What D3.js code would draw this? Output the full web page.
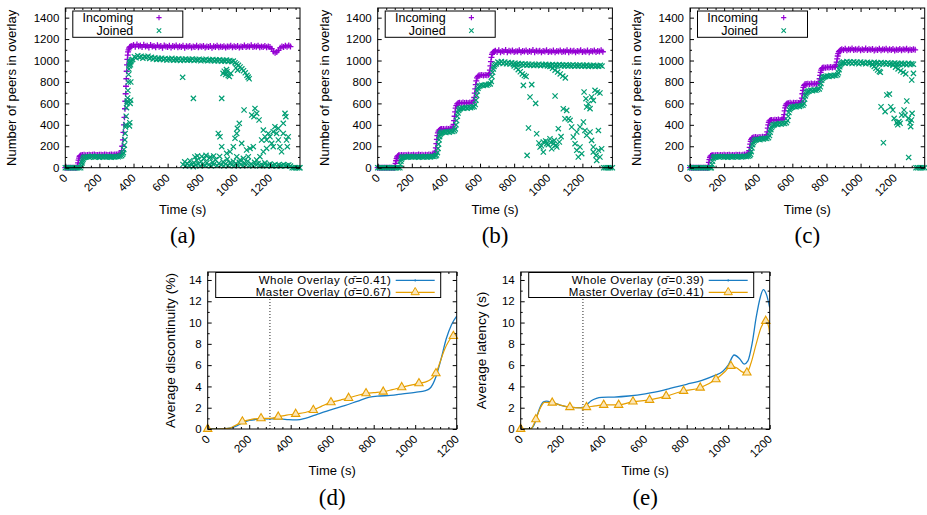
<!DOCTYPE html>
<html><head><meta charset="utf-8">
<script src="https://cdn.jsdelivr.net/npm/d3@7"></script>
<style>body{margin:0;background:#fff}svg text{font-family:"Liberation Sans",Arial,sans-serif;fill:#000}</style>
</head><body><svg id="c" width="927" height="515"></svg>
<script>
// ---------------- DATA ----------------
const peerTicks=[0,200,400,600,800,1000,1200,1400];
const timeTicks=[0,200,400,600,800,1000,1200];
const metricTicks=[0,2,4,6,8,10,12,14];
const scatterLegend=["Incoming","Joined"];
const lineLegendD=["Whole Overlay (\u03C3\u0304=0.41)","Master Overlay (\u03C3\u0304=0.67)"];
const lineLegendE=["Whole Overlay (\u03C3\u0304=0.39)","Master Overlay (\u03C3\u0304=0.41)"];
const captions=["(a)","(b)","(c)","(d)","(e)"];

const aIncoming=[[0,0],[10,0],[20,0],[30,0],[40,0],[50,0],[60,0],[68,2],[72,20],[75,45],[78,70],[81,90],[84,105],[88,112],[92,116],
[100,118],[110,120],[120,117],[130,119],[140,121],[150,118],[160,120],[170,122],[180,119],[190,118],[200,120],[210,121],[220,119],[230,122],[240,120],[250,118],[260,121],[270,123],[280,120],[290,122],[300,124],[310,126],[320,128],
[325,135],[330,160],[334,200],[338,260],[341,330],[344,400],[347,470],[350,550],[352,620],[354,690],[356,760],[358,830],[360,900],[362,960],[364,1010],[366,1050],[368,1080],[371,1100],[374,1115],[378,1125],[382,1130],
[390,1135],[400,1145],[410,1128],[420,1150],[430,1132],[440,1140],[450,1125],[460,1148],[470,1130],[480,1138],[490,1122],[500,1145],[510,1130],[520,1136],[530,1124],[540,1142],[550,1128],[560,1135],[570,1120],[580,1140],[590,1130],[600,1126],[610,1138],[620,1122],[630,1135],[640,1128],[650,1140],[660,1124],[670,1132],[680,1126],[690,1138],[700,1120],[710,1134],[720,1128],[730,1136],[740,1122],[750,1130],[760,1126],[770,1138],[780,1124],[790,1132],[800,1128],[810,1136],[820,1122],[830,1130],[840,1125],[850,1135],[860,1120],[870,1132],[880,1127],[890,1138],[900,1123],[910,1131],[920,1126],[930,1134],[940,1121],[950,1130],[960,1128],[970,1137],[980,1124],[990,1132],[1000,1126],[1010,1135],[1020,1122],[1030,1130],[1040,1127],[1050,1140],[1060,1125],[1070,1133],[1080,1128],[1090,1142],[1100,1126],[1110,1134],[1120,1129],[1130,1138],[1140,1124],[1150,1131],[1160,1127],[1170,1136],[1180,1123],[1190,1130],[1200,1125],[1210,1110],[1220,1085],[1230,1072],[1240,1080],[1250,1095],[1260,1118],[1270,1130],[1280,1125],[1290,1138],[1300,1128],[1310,1140],[1320,1130]];

const aJoined=[[0,0],[10,0],[20,0],[30,0],[40,0],[50,0],[60,0],[70,0],[80,0],[90,0],[95,20],[98,45],[101,65],[104,80],[108,92],[113,98],
[120,100],[130,104],[140,98],[150,102],[160,106],[170,99],[180,101],[190,104],[200,97],[210,105],[220,100],[230,102],[240,99],[250,104],[260,101],[270,98],[280,103],[290,100],[300,105],[310,102],[320,108],[330,112],
[336,125],[340,140],[343,170],[346,210],[349,260],[351,320],[353,380],[355,400],[357,480],[359,560],[361,600],[363,620],[365,650],[367,720],[369,800],[371,870],[373,920],[375,950],[377,975],[379,985],[382,960],[385,990],[388,1005],[376,390],[378,420],[380,600],[383,630],[384,800],
[395,1010],[405,1035],[415,1025],[425,1045],[435,1030],[445,1040],[455,1022],[465,1036],[475,1028],[485,1040],[495,1020],[505,1030],[515,1015],[525,1025],[535,1010],[545,1020],[555,1012],[565,1022],[575,1008],[585,1018],[595,1005],[605,1015],[615,1008],[625,1020],[635,1003],[645,1012],[655,1006],[665,1016],[675,1000],[685,1012],[695,1005],[705,1015],[715,1002],[725,1010],[735,1004],[745,1014],[755,1000],[765,1010],[775,1004],[785,1012],[795,998],[805,1008],[815,1002],[825,1012],[835,998],[845,1006],[855,1000],[865,1010],[875,996],[885,1004],[895,998],[905,1008],[915,994],[925,1002],[935,996],[945,1004],[955,992],[965,1000],[975,990],[985,995],
[995,980],[1005,968],[1015,955],[1025,940],[1035,922],[1045,905],[1055,885],[1065,862],[1072,845],[1078,830],
[925,880],[932,900],[940,870],[948,895],[955,860],[962,850],[945,915],[970,880],[1000,930],[1010,910],
[688,843],[751,647],[917,647],
[690,30],[700,55],[705,15],[715,40],[725,20],[730,65],[740,30],[750,10],[755,45],[765,25],[770,70],[780,35],[790,15],[795,60],[805,30],[815,85],[820,20],[830,45],[840,25],[845,90],[855,15],[865,50],[870,30],[880,75],[890,20],[900,40],[905,105],[915,25],[925,55],[930,15],[940,35],[950,80],[955,20],[965,45],[975,25],[985,60],[990,15],[1000,40],[1010,20],[1020,50],[1030,30],[1040,15],[1050,45],[1060,25],[1070,60],[1080,20],[1090,35],[1100,15],[1110,50],[1120,25],[1130,40],[1140,15],[1150,30],[1160,20],[1170,45],[1180,15],[1190,25],[1200,35],[1210,15],[1220,20],[1230,30],[1240,15],[1250,25],[1260,15],[1270,20],[1280,30],[1290,15],[1300,20],[1310,25],[1320,15],
[760,100],[775,110],[800,105],[825,115],[850,100],[870,110],
[897,320],[907,289],[917,196],[946,134],[966,149],[985,196],[995,274],[1009,367],[1020,414],[1005,320],[1034,227],[1044,87],[1063,165],[1073,103],[1048,538],[1112,553],[1106,476],[1093,491],[1122,507],[1136,445],[1141,103],[1151,258],[1161,351],[1171,289],[1180,258],[1190,320],[1200,289],[1210,227],[1219,336],[1229,383],[1239,320],[1249,258],[1258,196],[1268,149],[1278,320],[1288,507],[1293,476],[1278,414],[1249,367],[1219,196],[1180,180],[1161,149],[1102,196],[1083,180],[1005,103],[1024,72],[1122,72],[1297,258],[1307,289],[1302,196],
[1330,0],[1340,0],[1350,0],[1360,0],[1370,0],[1376,0]];

const bIncoming=[[0,0],[10,0],[20,0],[30,0],[40,0],[50,0],[60,0],[70,0],[80,0],[90,0],[98,0],[102,15],[105,40],[108,65],[111,85],[114,100],[118,110],[123,115],
[130,116],[140,118],[150,115],[160,119],[170,117],[180,120],[190,116],[200,118],[210,121],[220,117],[230,119],[240,122],[250,118],[260,120],[270,117],[280,121],[290,119],[300,122],[310,120],[320,124],[330,126],
[335,135],[338,155],[341,185],[344,225],[347,265],[350,300],[353,325],[357,342],[362,352],[368,358],
[375,360],[385,362],[395,358],[405,364],[415,361],[425,366],[435,368],
[442,380],[445,405],[448,440],[451,480],[454,520],[457,555],[461,580],[466,595],[472,603],
[480,605],[490,602],[500,608],[510,604],[520,606],[530,603],[540,609],[550,606],[558,610],
[563,625],[566,655],[569,695],[572,735],[575,775],[578,810],[582,838],[587,852],[593,860],
[600,862],[610,865],[620,860],[630,866],[640,863],[650,867],
[655,880],[658,910],[661,950],[664,990],[667,1030],[670,1058],[674,1072],[679,1080],[684,1085],
[690,1090],[700,1080],[710,1095],[720,1078],[730,1088],[740,1082],[750,1098],[760,1076],[770,1090],[780,1084],[790,1094],[800,1079],[810,1087],[820,1083],[830,1096],[840,1077],[850,1089],[860,1085],[870,1093],[880,1080],[890,1088],[900,1082],[910,1097],[920,1078],[930,1090],[940,1084],[950,1092],[960,1076],[970,1088],[980,1083],[990,1095],[1000,1079],[1010,1087],[1020,1081],[1030,1093],[1040,1077],[1050,1089],[1060,1085],[1070,1094],[1080,1080],[1090,1086],[1100,1082],[1110,1096],[1120,1078],[1130,1090],[1140,1083],[1150,1092],[1160,1077],[1170,1088],[1180,1084],[1190,1095],[1200,1079],[1210,1087],[1220,1082],[1230,1093],[1240,1078],[1250,1089],[1260,1085],[1270,1094],[1280,1080],[1290,1088],[1300,1083],[1310,1095],[1320,1082]];

const bJoined=[[0,0],[10,0],[20,0],[30,0],[40,0],[50,0],[60,0],[70,0],[80,0],[90,0],[100,0],[110,0],[120,0],[130,0],[133,30],[136,60],[139,80],[142,92],[146,98],
[150,100],[160,103],[170,98],[180,101],[190,104],[200,99],[210,102],[220,100],[230,105],[240,98],[250,103],[260,101],[270,99],[280,104],[290,100],[300,103],[310,101],[320,106],[330,104],[340,110],
[345,118],[350,140],[354,180],[357,220],[360,260],[363,290],[366,310],[370,320],[375,326],
[380,330],[390,334],[400,328],[410,336],[420,332],[430,340],[440,338],[450,346],
[455,362],[459,400],[463,440],[467,480],[471,510],[475,535],[480,548],
[485,552],[495,558],[505,554],[515,562],[525,556],[535,564],[545,560],[555,566],[565,570],
[572,590],[576,630],[580,675],[584,715],[588,742],[593,758],
[600,765],[610,770],[620,766],[630,774],[640,770],[650,778],[660,782],
[666,805],[670,850],[674,890],[678,920],[682,945],[687,960],
[695,968],[705,985],[715,975],[725,990],[735,972],[745,985],[755,970],[765,982],[775,968],[785,978],[795,965],[805,975],[815,962],[825,972],[835,960],[845,970],[855,958],[865,968],[875,956],[885,966],[895,955],[905,965],[915,953],[925,962],[935,955],[945,965],[955,952],[965,962],[975,955],[985,964],[995,950],[1005,960],[1015,953],[1025,963],[1035,950],[1045,958],[1055,952],[1065,962],[1075,948],[1085,958],[1095,950],[1105,960],[1115,948],[1125,956],[1135,950],[1145,960],[1155,947],[1165,955],[1175,950],[1185,958],[1195,946],[1205,955],[1215,948],[1225,957],[1235,945],[1245,953],[1255,948],[1265,956],[1275,944],[1285,952],[1295,946],[1305,955],[1315,948],
[800,950],[812,935],[824,915],[836,895],[848,875],[860,860],[870,850],
[1010,945],[1025,928],[1040,910],[1055,892],[1070,875],[1085,855],[1100,838],
[854,768],[903,775],[893,660],[926,600],[876,115],[884,370],[932,317],[1040,669],
[952,193],[971,240],[991,224],[1010,270],[1030,224],[1050,193],[1020,177],[971,146],[1059,364],[1088,550],[1098,457],[1108,535],[1118,457],[1128,442],[1137,380],[1147,286],[1157,224],[1167,162],[1176,100],[1186,193],[1196,131],[1167,333],[1186,380],[1206,426],[1215,348],[1225,302],[1245,333],[1254,255],[1264,193],[1210,706],[1221,644],[1235,597],[1245,551],[1254,660],[1264,628],[1225,566],[1274,722],[1288,706],[1303,697],[1294,348],[1264,146],[1280,115],[1294,162],[1303,100],[1313,177],[1284,68],
[945,230],[960,205],[985,250],[1000,215],[1015,235],[1035,255],[1045,210],[1065,240],[1075,290],
[1325,0],[1335,0],[1345,0],[1355,0],[1365,0],[1376,0]];

const cIncoming=[[0,0],[10,0],[20,0],[30,0],[40,0],[50,0],[60,0],[70,0],[80,0],[90,0],[100,0],[105,0],[108,20],[111,50],[114,75],[117,95],[121,108],[126,114],[132,116],
[140,117],[150,115],[160,118],[170,116],[180,119],[190,117],[200,120],[210,116],[220,118],[230,121],[240,117],[250,119],[260,116],[270,120],[280,118],[290,121],[300,117],[310,120],[320,122],[330,124],[338,126],
[344,135],[347,160],[350,190],[353,220],[356,245],[359,262],[363,274],[368,280],
[375,283],[385,286],[395,282],[405,287],[415,284],[425,288],[435,286],[445,290],
[450,305],[453,335],[456,370],[459,400],[462,422],[466,436],[471,443],
[478,446],[488,443],[498,448],[508,445],[518,449],[528,446],[538,450],[545,452],
[549,465],[552,495],[555,530],[558,558],[561,580],[565,593],[570,600],
[577,602],[587,605],[597,600],[607,606],[617,603],[627,607],[637,604],[647,608],
[653,620],[656,650],[659,690],[662,722],[665,750],[669,768],[674,778],
[681,780],[691,783],[701,779],[711,785],[721,781],[731,786],[741,782],[751,787],
[757,800],[760,830],[763,862],[766,890],[769,910],[773,925],[778,933],
[785,936],[795,933],[805,938],[815,935],[825,940],[835,936],[845,941],[852,943],
[857,958],[860,985],[863,1015],[866,1042],[869,1065],[873,1082],[878,1092],[884,1098],
[890,1104],[900,1098],[910,1110],[920,1096],[930,1106],[940,1100],[950,1112],[960,1097],[970,1105],[980,1101],[990,1109],[1000,1095],[1010,1104],[1020,1099],[1030,1111],[1040,1097],[1050,1106],[1060,1100],[1070,1108],[1080,1094],[1090,1103],[1100,1098],[1110,1110],[1120,1096],[1130,1105],[1140,1101],[1150,1109],[1160,1095],[1170,1104],[1180,1099],[1190,1107],[1200,1093],[1210,1102],[1220,1097],[1230,1108],[1240,1095],[1250,1104],[1260,1100],[1270,1110],[1280,1096],[1290,1103],[1300,1098],[1310,1106],[1320,1100]];

const cJoined=[[0,0],[10,0],[20,0],[30,0],[40,0],[50,0],[60,0],[70,0],[80,0],[90,0],[100,0],[110,0],[120,0],[125,0],[129,30],[132,60],[136,85],[140,97],[146,102],
[150,100],[160,104],[170,99],[180,102],[190,105],[200,100],[210,103],[220,98],[230,104],[240,101],[250,99],[260,105],[270,102],[280,100],[290,104],[300,101],[310,103],[320,106],[330,104],[340,108],[350,112],
[355,125],[359,150],[363,185],[367,215],[371,235],[376,250],[382,258],
[390,262],[400,266],[410,262],[420,270],[430,268],[440,274],[450,272],[460,280],
[466,300],[470,330],[474,355],[478,375],[483,390],[489,398],
[495,402],[505,408],[515,404],[525,412],[535,408],[545,415],[555,412],[565,420],
[572,440],[576,480],[580,515],[584,540],[589,555],[595,563],
[602,566],[612,572],[622,568],[632,576],[642,572],[652,580],[662,584],
[668,600],[672,640],[676,670],[680,690],[685,703],[691,712],
[698,716],[708,722],[718,718],[728,726],[738,722],[748,730],[758,735],
[764,755],[768,785],[772,815],[776,832],[781,842],[787,848],
[795,850],[805,856],[815,852],[825,860],[835,856],[845,862],[855,860],[865,868],
[870,885],[874,915],[878,942],[882,960],[887,972],[893,980],
[900,985],[910,975],[920,990],[930,978],[940,986],[950,972],[960,988],[970,976],[980,984],[990,970],[1000,986],[1010,975],[1020,982],[1030,969],[1040,984],[1050,974],[1060,980],[1070,968],[1080,983],[1090,972],[1100,978],[1110,966],[1120,981],[1130,970],[1140,976],[1150,965],[1160,979],[1170,968],[1180,975],[1190,964],[1200,977],[1210,967],[1220,973],[1230,962],[1240,975],[1250,965],[1260,972],[1270,960],[1280,974],[1290,963],[1300,970],[1310,965],
[1070,960],[1080,945],[1090,928],[1100,912],[1110,898],[1116,890],[1190,955],[1205,938],[1220,922],[1235,905],[1250,890],[1265,875],[1300,818],[1310,880],
[1120,569],[1144,523],[1154,678],[1169,687],[1134,233],[1177,569],[1189,538],[1197,460],[1212,420],[1232,414],[1241,491],[1255,538],[1271,622],[1261,491],[1280,460],[1290,420],[1294,383],[1302,507],[1282,96],[1298,445],[1225,430],[1218,400],
[1325,0],[1335,0],[1345,0],[1355,0],[1365,0],[1376,0]];

const dWhole=[[0,0],[40,0],[80,0.02],[110,0.1],[140,0.3],[170,0.6],[200,0.8],[250,0.92],[300,0.95],[350,0.95],[390,0.88],[430,0.86],[470,1.0],[530,1.4],[600,1.85],[660,2.2],[720,2.6],[780,3.0],[830,3.1],[880,3.15],[940,3.3],[1000,3.45],[1050,3.6],[1075,3.9],[1100,4.9],[1125,6.6],[1150,8.5],[1175,9.8],[1200,10.6]];
const dMaster=[[0,0],[50,0],[100,0.05],[130,0.3],[167,0.69],[210,0.9],[257,1.0],[300,1.0],[340,1.15],[380,1.3],[424,1.41],[470,1.55],[509,1.78],[550,2.15],[594,2.5],[640,2.72],[679,2.91],[720,3.15],[763,3.35],[800,3.42],[846,3.5],[890,3.7],[935,3.92],[980,4.12],[1018,4.29],[1060,4.5],[1080,4.75],[1100,5.23],[1120,6.3],[1140,7.4],[1160,8.2],[1184,8.73],[1200,8.8]];
const dMasterMarks=[[0,0],[167,0.69],[257,1.0],[340,1.15],[424,1.41],[509,1.78],[594,2.5],[679,2.91],[763,3.35],[846,3.5],[935,3.92],[1018,4.29],[1100,5.23],[1184,8.73]];

const eWhole=[[0,0],[30,0],[50,0.05],[65,0.4],[80,1.3],[95,2.1],[110,2.55],[125,2.62],[150,2.5],[190,2.25],[240,2.05],[290,2.0],[305,2.05],[320,2.3],[340,2.65],[365,2.88],[390,2.97],[450,3.0],[520,3.1],[600,3.3],[680,3.6],[720,3.82],[800,4.2],[877,4.6],[930,5.0],[973,5.4],[1000,6.0],[1029,6.95],[1055,6.6],[1077,6.1],[1095,6.4],[1115,8.0],[1135,10.5],[1155,12.4],[1169,13.1],[1185,12.6],[1200,11.4]];
const eMaster=[[0,0],[30,0],[50,0.05],[73,0.91],[95,2.0],[115,2.5],[152,2.47],[190,2.25],[237,2.05],[280,1.98],[317,2.05],[360,2.18],[400,2.26],[472,2.26],[541,2.57],[621,2.73],[701,3.1],[785,3.57],[865,3.88],[941,4.67],[985,5.4],[1013,5.92],[1040,5.75],[1070,5.35],[1090,5.3],[1110,6.2],[1135,8.0],[1160,9.6],[1181,10.15],[1195,9.6],[1200,8.8]];
const eMasterMarks=[[0,0],[73,0.91],[152,2.47],[237,2.05],[317,2.05],[400,2.26],[472,2.26],[541,2.57],[621,2.73],[701,3.1],[785,3.57],[865,3.88],[941,4.67],[1013,5.92],[1090,5.3],[1181,10.15]];
const markerTime=300;

// ---------------- DRAW ----------------
const svg=d3.select("#c");
const C_IN="#9400d3",C_JO="#009e73",C_BLUE="#1a7dc4",C_ORG="#e69f00";

function frame(g,x,y,xt,yt,xMinor,yMinor,titleY,titleX,titleSize,cap,capY){
  const [x0,x1]=x.range(),[y1,y0]=y.range();
  const minorX=d3.range(x.domain()[0],x.domain()[1]+1e-9,xMinor).filter(v=>!xt.includes(v));
  const minorY=d3.range(y.domain()[0],y.domain()[1]+1e-9,yMinor).filter(v=>!yt.includes(v));
  const mk=(ax,sel)=>{sel.call(ax);sel.select(".domain").remove();sel.selectAll("line").attr("stroke","#000");return sel;};
  mk(d3.axisBottom(x).tickValues(minorX).tickSize(-2).tickFormat(""),g.append("g").attr("transform",`translate(0,${y1})`));
  mk(d3.axisTop(x).tickValues(minorX).tickSize(-2).tickFormat(""),g.append("g").attr("transform",`translate(0,${y0})`));
  mk(d3.axisLeft(y).tickValues(minorY).tickSize(-2).tickFormat(""),g.append("g").attr("transform",`translate(${x0},0)`));
  mk(d3.axisRight(y).tickValues(minorY).tickSize(-2).tickFormat(""),g.append("g").attr("transform",`translate(${x1},0)`));
  mk(d3.axisTop(x).tickValues(xt).tickSize(-4).tickFormat(""),g.append("g").attr("transform",`translate(0,${y0})`));
  mk(d3.axisRight(y).tickValues(yt).tickSize(-4).tickFormat(""),g.append("g").attr("transform",`translate(${x1},0)`));
  const bx=mk(d3.axisBottom(x).tickValues(xt).tickSize(-4).tickFormat(d3.format("d")),g.append("g").attr("transform",`translate(0,${y1})`));
  bx.selectAll("text").attr("x",0).attr("y",0).attr("dy",0).attr("text-anchor","end")
    .attr("transform","translate(2.5,11) rotate(-45)").style("font-size","11.5px").style("font-family","Liberation Sans, Arial, sans-serif");
  const ly=mk(d3.axisLeft(y).tickValues(yt).tickSize(-4).tickPadding(6).tickFormat(d3.format("d")),g.append("g").attr("transform",`translate(${x0},0)`));
  ly.selectAll("text").style("font-size","11.5px").style("font-family","Liberation Sans, Arial, sans-serif");
  g.append("rect").attr("x",x0).attr("y",y0).attr("width",x1-x0).attr("height",y1-y0).attr("fill","none").attr("stroke","#000").attr("stroke-width",1);
  g.append("text").attr("transform",`translate(${x0-titleX},${(y0+y1)/2}) rotate(-90)`).attr("text-anchor","middle").attr("dy","0.35em").style("font-size",titleSize).text(titleY);
  g.append("text").attr("x",(x0+x1)/2).attr("y",y1+46).attr("text-anchor","middle").style("font-size","13px").text("Time (s)");
  g.append("text").attr("x",(x0+x1)/2).attr("y",capY).attr("text-anchor","middle").style("font-family","Liberation Serif, Times New Roman, serif").style("font-size","23px").text(cap);
}
const plusD=(px,py,s)=>`M${px-s},${py}h${2*s}M${px},${py-s}v${2*s}`;
const crossD=(px,py,s)=>`M${px-s},${py-s}l${2*s},${2*s}M${px-s},${py+s}l${2*s},${-2*s}`;
const PS=3,CS=2.6;

function scatterPanel(x0,inc,joi,cap){
  const x=d3.scaleLinear([0,1376],[x0,x0+234.7]);
  const y=d3.scaleLinear([0,1490],[167.7,8]);
  const g=svg.append("g");
  g.append("g").selectAll("path").data(inc).join("path").attr("d",d=>plusD(x(d[0]),y(d[1]),PS)).attr("stroke",C_IN).attr("stroke-width",1.3).attr("fill","none");
  g.append("g").selectAll("path").data(joi).join("path").attr("d",d=>crossD(x(d[0]),y(d[1]),CS)).attr("stroke",C_JO).attr("stroke-width",1.2).attr("fill","none");
  frame(g,x,y,timeTicks,peerTicks,50,100,"Number of peers in overlay",53.6,"13px",cap,243);
  const lg=g.append("g");
  lg.append("rect").attr("x",x0+7.5).attr("y",11).attr("width",110).attr("height",26.3).attr("fill","#fff").attr("stroke","#000");
  lg.append("text").attr("x",x0+68).attr("y",17.6).attr("dy","0.35em").attr("text-anchor","end").style("font-size","12.5px").text(scatterLegend[0]);
  lg.append("text").attr("x",x0+68).attr("y",30.6).attr("dy","0.35em").attr("text-anchor","end").style("font-size","12.5px").text(scatterLegend[1]);
  lg.append("path").attr("d",plusD(x0+93.7,17.6,2.6)).attr("stroke",C_IN).attr("stroke-width",1.1).attr("fill","none");
  lg.append("path").attr("d",crossD(x0+93.7,30.6,2.2)).attr("stroke",C_JO).attr("stroke-width",1.1).attr("fill","none");
}
scatterPanel(65.3,aIncoming,aJoined,captions[0]);
scatterPanel(377.7,bIncoming,bJoined,captions[1]);
scatterPanel(690,cIncoming,cJoined,captions[2]);

function linePanel(x0,whole,master,marks,legend,title,titleX,cap){
  const x=d3.scaleLinear([0,1200],[x0,x0+249]);
  const y=d3.scaleLinear([0,14.75],[429,272]);
  const g=svg.append("g");
  const clipId="clip"+cap.replace(/\W/g,"");
  g.append("clipPath").attr("id",clipId).append("rect").attr("x",x0).attr("y",272).attr("width",249).attr("height",157);
  g.append("line").attr("x1",x(markerTime)).attr("x2",x(markerTime)).attr("y1",272).attr("y2",429).attr("stroke","#222").attr("stroke-dasharray","1,2").attr("stroke-width",1);
  const ln=d3.line().x(d=>x(d[0])).y(d=>y(d[1])).curve(d3.curveMonotoneX);
  const pg=g.append("g").attr("clip-path",`url(#${clipId})`);
  pg.append("path").attr("d",ln(whole)).attr("stroke",C_BLUE).attr("stroke-width",1.3).attr("fill","none");
  pg.append("path").attr("d",ln(master)).attr("stroke",C_ORG).attr("stroke-width",1.2).attr("fill","none");
  const tri=d3.symbol().type(d3.symbolTriangle).size(30);
  g.append("g").selectAll("path").data(marks).join("path").attr("transform",d=>`translate(${x(d[0])},${y(d[1])})`).attr("d",tri).attr("stroke",C_ORG).attr("stroke-width",1.1).attr("fill","#fbe6b8");
  frame(g,x,y,timeTicks,metricTicks,40,1,title,titleX,"13.7px",cap,504.5);
  const lg=g.append("g");
  lg.append("rect").attr("x",x0+8).attr("y",272.5).attr("width",225).attr("height",25).attr("fill","#fff").attr("stroke","#000");
  lg.append("text").attr("x",x0+183.5).attr("y",279.8).attr("dy","0.35em").attr("text-anchor","end").style("font-size","11.5px").style("letter-spacing","0.45px").text(legend[0]);
  lg.append("text").attr("x",x0+183.5).attr("y",292.4).attr("dy","0.35em").attr("text-anchor","end").style("font-size","11.5px").style("letter-spacing","0.45px").text(legend[1]);
  lg.append("line").attr("x1",x0+188).attr("x2",x0+227).attr("y1",280.4).attr("y2",280.4).attr("stroke",C_BLUE).attr("stroke-width",1.3);
  lg.append("line").attr("x1",x0+207.5).attr("x2",x0+207.5).attr("y1",279.2).attr("y2",281.6).attr("stroke",C_BLUE).attr("stroke-width",1);
  lg.append("line").attr("x1",x0+188).attr("x2",x0+227).attr("y1",292.3).attr("y2",292.3).attr("stroke",C_ORG).attr("stroke-width",1.2);
  lg.append("path").attr("transform",`translate(${x0+207.5},292.3)`).attr("d",tri).attr("stroke",C_ORG).attr("fill","#fbe6b8");
}
linePanel(207.7,dWhole,dMaster,dMasterMarks,lineLegendD,"Average discontinuity (%)",37,captions[3]);
linePanel(520.7,eWhole,eMaster,eMasterMarks,lineLegendE,"Average latency (s)",39,captions[4]);
</script></body></html>
